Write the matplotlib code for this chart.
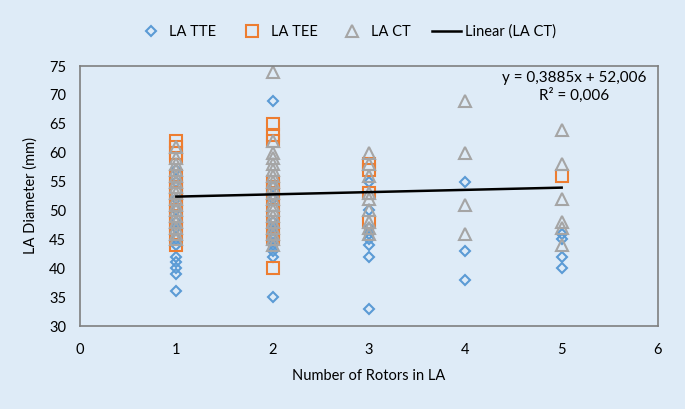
import matplotlib
matplotlib.use("Agg")
import matplotlib.pyplot as plt
from matplotlib.transforms import IdentityTransform

plt.rcParams['font.family'] = ['Lato', 'DejaVu Sans']

# Data
tte_x = [1]*13 + [2]*11 + [3]*8 + [4]*3 + [5]*4
tte_y = [36, 39, 40, 41, 42, 44, 45, 47, 48, 50, 52, 55, 57,
         69, 35, 48, 47, 46, 45, 44, 43, 42, 54, 52,
         55, 50, 47, 46, 45, 44, 42, 33,
         55, 43, 38,
         46, 45, 42, 40]
tee_x = [1]*16 + [2]*12 + [3]*4 + [5]*1
tee_y = [62, 61, 60, 59, 56, 55, 54, 53, 52, 51, 50, 49, 48, 47, 46, 44,
         65, 63, 62, 55, 54, 53, 52, 50, 48, 46, 45, 40,
         58, 57, 53, 48,
         56]
ct_x = [1]*16 + [2]*19 + [3]*9 + [4]*4 + [5]*6
ct_y = [61, 59, 58, 57, 56, 55, 54, 53, 52, 51, 50, 49, 48, 47, 46, 45,
        74, 62, 60, 59, 58, 57, 56, 55, 54, 53, 52, 51, 50, 49, 48, 47, 46, 45, 44,
        60, 58, 56, 53, 52, 50, 48, 47, 46,
        69, 60, 51, 46,
        64, 58, 52, 48, 47, 44]
slope = 0.3885
intercept = 52.006
r2_text = "0,006"
trend_x = [1, 5]
x_ticks = [0, 1, 2, 3, 4, 5, 6]
y_ticks = [30, 35, 40, 45, 50, 55, 60, 65, 70, 75]

bg = '#DEEBF7'
c_tte = '#5B9BD5'
c_tee = '#ED7D31'
c_ct = '#A5A5A5'

fig = plt.figure(figsize=(6.85, 4.09), dpi=100, facecolor=bg)
ax = fig.add_axes([80/685, 1-326/409, 578/685, 260/409], facecolor=bg)

ax.plot(tte_x, tte_y, linestyle='none', marker='D', markersize=5.5,
        markerfacecolor='none', markeredgecolor=c_tte, markeredgewidth=1.5, label='LA TTE')
ax.plot(tee_x, tee_y, linestyle='none', marker='s', markersize=8,
        markerfacecolor='none', markeredgecolor=c_tee, markeredgewidth=1.5, label='LA TEE')
ax.plot(ct_x, ct_y, linestyle='none', marker='^', markersize=8,
        markerfacecolor='none', markeredgecolor=c_ct, markeredgewidth=1.5, label='LA CT')
ty = [slope*x + intercept for x in trend_x]
ax.plot(trend_x, ty, color='black', linewidth=1.8, label='Linear (LA CT)')

ax.set_xlim(0, 6)
ax.set_ylim(30, 75)
ax.set_xticks(x_ticks)
ax.set_yticks(y_ticks)
ax.tick_params(length=0, labelsize=10.5, colors='black')
ax.tick_params(axis='x', pad=12)
ax.tick_params(axis='y', pad=10)
for s in ax.spines.values():
    s.set_color('#7F7F7F')
    s.set_linewidth(1.2)

ax.set_xlabel('Number of Rotors in LA', fontsize=10.5, labelpad=9)
ax.set_ylabel('LA Diameter (mm)', fontsize=10.5, labelpad=8)

eq = "y = {}x + {}\nR² = {}".format(str(slope).replace('.', ','),
                                   str(intercept).replace('.', ','), r2_text)
fig.text(574/685, 1-87/409, eq, fontsize=11, ha='center', va='center',
         multialignment='center', linespacing=1.25)

handles, labels = ax.get_legend_handles_labels()
fig.legend(handles, labels, loc='center', bbox_to_anchor=(346/685, 1-32/409), ncol=4,
           frameon=False, fontsize=10.5, handlelength=2.0, columnspacing=1.4,
           handletextpad=0.3)

fig.savefig('out.png', dpi=100, facecolor=bg)
